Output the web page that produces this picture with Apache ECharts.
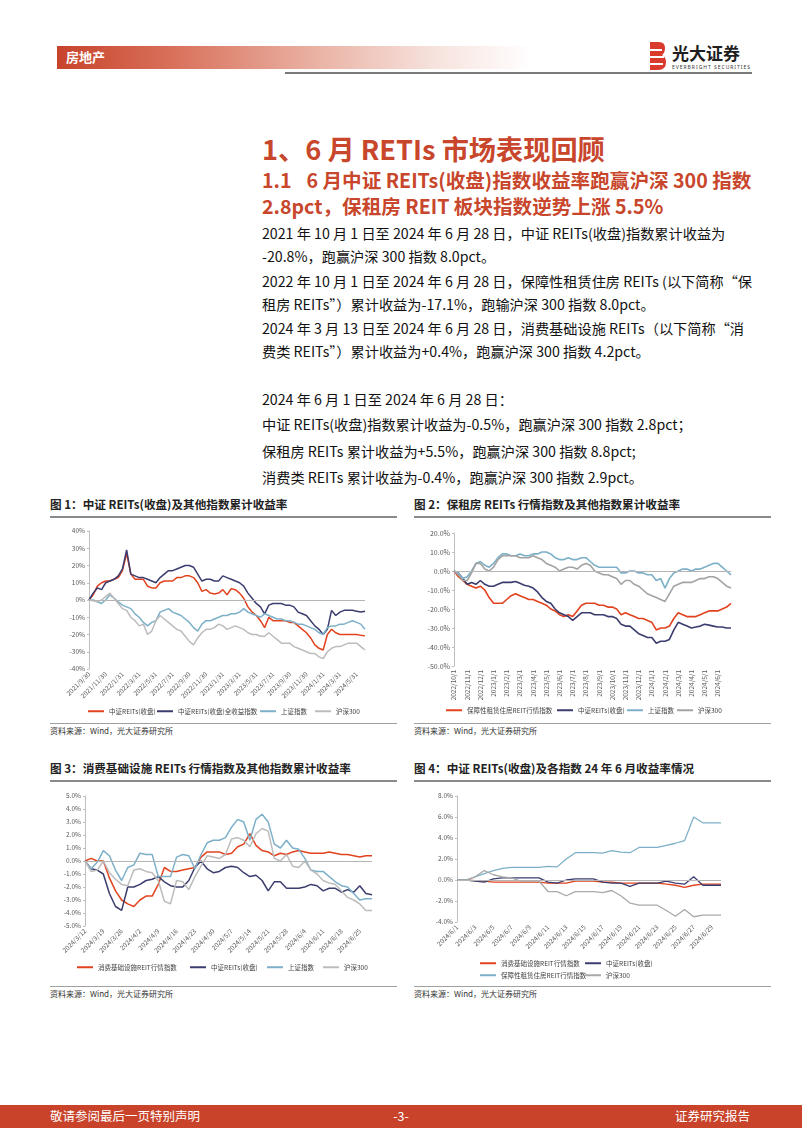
<!DOCTYPE html>
<html><head><meta charset="utf-8">
<script src="https://cdn.jsdelivr.net/npm/echarts@6.0.0/dist/echarts.min.js"></script>
<style>
html,body{margin:0;padding:0;background:#fff;}
#page{position:relative;width:802px;height:1133px;background:#fff;overflow:hidden;font-family:"Noto Sans CJK SC","Noto Sans",sans-serif;color:#111;}
.t{position:absolute;white-space:nowrap;}
.ch{position:absolute;}
.b{font-size:14.2px;line-height:20px;}
.ft{font-size:11.6px;line-height:16px;font-weight:bold;color:#222;}
</style></head>
<body>
<div id="page">
  <!-- header -->
  <div style="position:absolute;left:57px;top:46px;width:475px;height:23px;background:linear-gradient(to right,#c8432b 0%,#d9725c 25%,#eab3a5 55%,#f7e3de 80%,#ffffff 100%);"></div>
  <div class="t" style="left:66px;top:48px;font-size:13px;line-height:18px;font-weight:bold;color:#fff;">房地产</div>
  <div style="position:absolute;left:285px;top:72px;width:467px;height:2px;background:#7a7a7a;"></div>
  <svg style="position:absolute;left:646px;top:40px;" width="110" height="34" viewBox="0 0 110 34">
    <path d="M4 2 h9 q6 0 6 6 q0 5 -3 7 q4 2 4 7 q0 8 -8 8 h-8 z" fill="#d93a2b"/>
    <rect x="4" y="9" width="12" height="2" fill="#fff"/>
    <rect x="4" y="16" width="14" height="2" fill="#fff"/>
    <rect x="4" y="23" width="13" height="2" fill="#fff"/>
    <text x="26" y="20" font-size="17" font-weight="bold" fill="#1f1f1f" font-family="Noto Sans CJK SC">光大证券</text>
    <text x="26" y="29" font-size="5" fill="#333" font-family="Noto Sans" textLength="78">EVERBRIGHT SECURITIES</text>
  </svg>

  <!-- titles -->
  <div class="t" style="left:262px;top:132px;font-size:27.2px;line-height:32px;font-weight:bold;color:#c8462b;">1、6 月 RETIs 市场表现回顾</div>
  <div class="t" style="left:262px;top:167px;font-size:19.6px;line-height:26px;font-weight:bold;color:#c8462b;">1.1<span style="display:inline-block;width:15px;"></span>6 月中证 REITs(收盘)指数收益率跑赢沪深 300 指数</div>
  <div class="t" style="left:262px;top:193px;font-size:19.6px;line-height:26px;font-weight:bold;color:#c8462b;">2.8pct，保租房 REIT 板块指数逆势上涨 5.5%</div>

  <!-- body -->
  <div class="t b" style="left:262px;top:223px;">2021 年 10 月 1 日至 2024 年 6 月 28 日，中证 REITs(收盘)指数累计收益为</div>
  <div class="t b" style="left:262px;top:246px;">-20.8%，跑赢沪深 300 指数 8.0pct。</div>
  <div class="t b" style="left:262px;top:271px;">2022 年 10 月 1 日至 2024 年 6 月 28 日，保障性租赁住房 REITs (以下简称“保</div>
  <div class="t b" style="left:262px;top:294px;">租房 REITs”）累计收益为-17.1%，跑输沪深 300 指数 8.0pct。</div>
  <div class="t b" style="left:262px;top:318px;">2024 年 3 月 13 日至 2024 年 6 月 28 日，消费基础设施 REITs（以下简称“消</div>
  <div class="t b" style="left:262px;top:341px;">费类 REITs”）累计收益为+0.4%，跑赢沪深 300 指数 4.2pct。</div>
  <div class="t b" style="left:262px;top:389px;">2024 年 6 月 1 日至 2024 年 6 月 28 日：</div>
  <div class="t b" style="left:262px;top:414px;">中证 REITs(收盘)指数累计收益为-0.5%，跑赢沪深 300 指数 2.8pct；</div>
  <div class="t b" style="left:262px;top:441px;">保租房 REITs 累计收益为+5.5%，跑赢沪深 300 指数 8.8pct;</div>
  <div class="t b" style="left:262px;top:467px;">消费类 REITs 累计收益为-0.4%，跑赢沪深 300 指数 2.9pct。</div>

  <!-- figure titles -->
  <div class="t ft" style="left:50px;top:496px;">图 1：中证 REITs(收盘)及其他指数累计收益率</div>
  <div class="t ft" style="left:414px;top:496px;">图 2：保租房 REITs 行情指数及其他指数累计收益率</div>
  <div style="position:absolute;left:50px;top:516px;width:347px;height:1.5px;background:#8a8a8a;"></div>
  <div style="position:absolute;left:414px;top:516px;width:357px;height:1.5px;background:#8a8a8a;"></div>

  <div class="t ft" style="left:50px;top:760px;">图 3：消费基础设施 REITs 行情指数及其他指数累计收益率</div>
  <div class="t ft" style="left:414px;top:760px;">图 4：中证 REITs(收盘)及各指数 24 年 6 月收益率情况</div>
  <div style="position:absolute;left:50px;top:780px;width:347px;height:1.5px;background:#8a8a8a;"></div>
  <div style="position:absolute;left:414px;top:780px;width:357px;height:1.5px;background:#8a8a8a;"></div>

  <!-- charts -->
  <div id="c1" class="ch" style="left:50px;top:520px;width:350px;height:200px;"></div>
  <div id="c2" class="ch" style="left:414px;top:520px;width:360px;height:200px;"></div>
  <div id="c3" class="ch" style="left:50px;top:785px;width:350px;height:195px;"></div>
  <div id="c4" class="ch" style="left:414px;top:785px;width:360px;height:195px;"></div>

  <!-- sources -->
  <div style="position:absolute;left:50px;top:723px;width:347px;height:1px;background:#a0a0a0;"></div>
  <div style="position:absolute;left:414px;top:723px;width:357px;height:1px;background:#a0a0a0;"></div>
  <div class="t" style="left:50px;top:725px;font-size:8px;line-height:12px;color:#333;">资料来源：Wind，光大证券研究所</div>
  <div class="t" style="left:414px;top:725px;font-size:8px;line-height:12px;color:#333;">资料来源：Wind，光大证券研究所</div>
  <div style="position:absolute;left:50px;top:986px;width:347px;height:1px;background:#a0a0a0;"></div>
  <div style="position:absolute;left:414px;top:986px;width:357px;height:1px;background:#a0a0a0;"></div>
  <div class="t" style="left:50px;top:988px;font-size:8px;line-height:12px;color:#333;">资料来源：Wind，光大证券研究所</div>
  <div class="t" style="left:414px;top:988px;font-size:8px;line-height:12px;color:#333;">资料来源：Wind，光大证券研究所</div>

  <!-- footer -->
  <div style="position:absolute;left:0;top:1105px;width:802px;height:23px;background:#c8432a;"></div>
  <div class="t" style="left:50px;top:1107px;font-size:12.5px;line-height:18px;color:#fff;">敬请参阅最后一页特别声明</div>
  <div class="t" style="left:381px;width:40px;text-align:center;top:1107px;font-size:12.5px;line-height:18px;color:#fff;">-3-</div>
  <div class="t" style="right:52px;top:1107px;font-size:12.5px;line-height:18px;color:#fff;">证券研究报告</div>
</div>

<script>
// ---------------- data ----------------
// Chart 1: 中证REITs(收盘)及其他指数累计收益率 (%), semi-monthly readings
const c1Dates = ["2021/9/30","2021/10/15","2021/10/31","2021/11/15","2021/11/30","2021/12/15","2021/12/31",
"2022/1/15","2022/1/31","2022/2/15","2022/2/28","2022/3/15","2022/3/31","2022/4/15","2022/4/30","2022/5/15","2022/5/31","2022/6/15","2022/6/30","2022/7/15","2022/7/31","2022/8/15","2022/8/31","2022/9/15","2022/9/30","2022/10/15","2022/10/31","2022/11/15","2022/11/30","2022/12/15","2022/12/31",
"2023/1/15","2023/1/31","2023/2/15","2023/2/28","2023/3/15","2023/3/31","2023/4/15","2023/4/30","2023/5/15","2023/5/31","2023/6/15","2023/6/30","2023/7/15","2023/7/31","2023/8/15","2023/8/31","2023/9/15","2023/9/30","2023/10/15","2023/10/31","2023/11/15","2023/11/30","2023/12/15","2023/12/31",
"2024/1/15","2024/1/31","2024/2/15","2024/2/29","2024/3/15","2024/3/31","2024/4/15","2024/4/30","2024/5/15","2024/5/31","2024/6/15","2024/6/28"];
const c1Ticks = ["2021/9/30","2021/11/30","2022/1/31","2022/3/31","2022/5/31","2022/7/31","2022/9/30","2022/11/30","2023/1/31","2023/3/31","2023/5/31","2023/7/31","2023/9/30","2023/11/30","2024/1/31","2024/3/31","2024/5/31"];
const c1Reits = [0,3,8,10,11,11,12,13,17,27,15,12,12,12,8,7,7,10,11,11,11,13,13,14,14,13,10,5,6,4,3.5,4,6,3,6.5,6,4,1,-4,-7,-9,-12,-16,-10,-12,-12,-12,-12,-13,-13,-15,-17,-19,-22,-26,-28,-29,-20,-17,-19,-20,-20,-20,-20,-20,-20.5,-20.8];
const c1ReitsTotal = [0,4,7,6,10,11,12,14,18,29,15,14,13,13,12,11,10,13,15,17,17,18,19,20,20,19,15,11,12,12,11,11,14,13,12,11,10,8,4,1,-2,-4,-8,-3,-2,-2,-2,-3,-3,-4,-7,-8,-9,-12,-15,-17,-20,-17,-6,-9,-7,-6,-6,-6,-6.5,-7,-6.5];
const c1SH = [0,0,-1,-2,0,3,1,-1,-3,-4,-5,-8,-10,-13,-15,-13,-12,-7,-6,-5,-7,-8,-9,-11,-13,-16,-18,-14,-12,-12,-11,-10,-9,-9,-8,-8,-7,-5,-7,-8,-9,-10,-8,-9,-10,-11,-11,-12,-12,-13,-14,-14,-15,-16,-17,-19,-20,-16,-15,-15,-14,-14,-13,-12,-13,-14,-17];
const c1HS300 = [0,-0.5,-1,0,2,4,1,-2,-5,-6,-10,-12,-15,-14,-20,-18,-12,-9,-11,-13,-15,-17,-18,-21,-24,-26,-22,-19,-17,-17,-16,-14,-15,-17,-16,-15,-16,-17,-19,-20,-20,-21,-21,-19,-21,-23,-25,-25,-25,-27,-28,-29,-30,-31,-31,-33,-34,-30,-28,-27,-27,-26,-25,-25,-25,-27,-29];

// Chart 2: 保租房REITs行情指数及其他指数累计收益率 (%)
const c2Dates = ["2022/10/1","2022/10/11","2022/10/21","2022/11/1","2022/11/11","2022/11/21","2022/12/1","2022/12/11","2022/12/21",
"2023/1/1","2023/1/11","2023/1/21","2023/2/1","2023/2/11","2023/2/21","2023/3/1","2023/3/11","2023/3/21","2023/4/1","2023/4/11","2023/4/21","2023/5/1","2023/5/11","2023/5/21","2023/6/1","2023/6/11","2023/6/21","2023/7/1","2023/7/11","2023/7/21","2023/8/1","2023/8/11","2023/8/21","2023/9/1","2023/9/11","2023/9/21","2023/10/1","2023/10/11","2023/10/21","2023/11/1","2023/11/11","2023/11/21","2023/12/1","2023/12/11","2023/12/21",
"2024/1/1","2024/1/11","2024/1/21","2024/2/1","2024/2/11","2024/2/21","2024/3/1","2024/3/11","2024/3/21","2024/4/1","2024/4/11","2024/4/21","2024/5/1","2024/5/11","2024/5/21","2024/6/1","2024/6/11","2024/6/21","2024/6/28"];
const c2Ticks = ["2022/10/1","2022/11/1","2022/12/1","2023/1/1","2023/2/1","2023/3/1","2023/4/1","2023/5/1","2023/6/1","2023/7/1","2023/8/1","2023/9/1","2023/10/1","2023/11/1","2023/12/1","2024/1/1","2024/2/1","2024/3/1","2024/4/1","2024/5/1","2024/6/1"];
const c2Rent = [0,-3,-5,-7,-8,-9,-8,-10,-14,-17,-17,-17,-15,-13,-12,-13,-14,-15,-15,-16,-17,-18,-20,-21,-23,-24,-23,-24,-21,-18,-17,-17,-17,-18,-18,-19,-19,-20,-23,-22,-23,-24,-25,-25,-26,-27,-31,-30,-30,-29,-25,-22,-23,-24,-24,-24,-23,-22,-21,-21,-21,-20,-19,-17];
const c2Reits = [0,-1,-4,-7,-6,-7,-5,-7,-8,-8,-7,-6,-6,-6,-5.5,-6.5,-7.5,-8,-9,-11,-14,-16,-17,-20,-22,-23,-24,-26,-24,-22,-22,-22,-23,-23,-23,-24,-24,-25,-28,-29,-29,-31,-33,-34,-35,-35,-38,-37,-37,-36,-31,-27,-28,-29,-30,-29.5,-29,-28,-28.5,-29,-29.5,-29.5,-30,-30];
const c2SH = [0,-1,-4,-3,0,4,5,3,2,4,7,9,9,8,8,9,8,8,9,9,10,10,9,7,6,6,7,6,6,7,7,5,3,2,2,2,2,2,-1,-1,0,0,-1,-1,-2,-2,-5,-4,-9,-4,-1,0,1,1,0,1,1,2,3,4,4,2,0,-2];
const c2HS300 = [0,-2,-5,-5,-1,4,4,1,0,2,6,8,8,8,8,7,7,7,8,7,6,4,3,2,0,1,2,2,1,3,4,3,0,-1,-2,-2,-3,-4,-7,-5,-5,-7,-8,-10,-12,-13,-14,-15,-16,-12,-8,-7,-6,-6,-6,-5,-4,-4,-3,-3,-4,-6,-8,-9];

// Chart 3: 消费基础设施REITs行情指数及其他指数累计收益率 (%)
const c3Dates = ["2024/3/12","2024/3/14","2024/3/16","2024/3/19","2024/3/21","2024/3/23","2024/3/26","2024/3/28","2024/3/30",
"2024/4/2","2024/4/4","2024/4/6","2024/4/9","2024/4/11","2024/4/13","2024/4/16","2024/4/18","2024/4/20","2024/4/23","2024/4/25","2024/4/27","2024/4/30",
"2024/5/2","2024/5/4","2024/5/7","2024/5/9","2024/5/11","2024/5/14","2024/5/16","2024/5/18","2024/5/21","2024/5/23","2024/5/25","2024/5/28","2024/5/30",
"2024/6/1","2024/6/4","2024/6/6","2024/6/8","2024/6/11","2024/6/13","2024/6/15","2024/6/18","2024/6/20","2024/6/22","2024/6/25","2024/6/27","2024/6/28"];
const c3Ticks = ["2024/3/12","2024/3/19","2024/3/26","2024/4/2","2024/4/9","2024/4/16","2024/4/23","2024/4/30","2024/5/7","2024/5/14","2024/5/21","2024/5/28","2024/6/4","2024/6/11","2024/6/18","2024/6/25"];
const c3Consume = [0,0.2,0.0,0.0,-1.3,-2.3,-3.0,-3.3,-3.5,-3.0,-2.7,-2.7,-1.8,-0.5,-0.8,-0.8,-0.7,-0.6,-0.5,0.3,0.7,0.7,0.7,0.5,0.6,1.1,1.3,2.1,1.2,0.8,0.7,0.4,0.6,0.5,0.7,0.8,0.7,0.6,0.6,0.6,0.7,0.6,0.5,0.5,0.4,0.3,0.4,0.4];
const c3Reits = [0,-0.6,-0.7,-1.0,-2.5,-3.5,-3.8,-2.0,-2.0,-1.8,-1.5,-1.4,-1.2,-1.6,-1.9,-2.0,-2.0,-1.5,-0.5,0.0,-0.6,-0.9,-0.8,-0.5,-0.4,-0.5,-0.9,-1.2,-1.1,-1.5,-2.3,-1.6,-1.6,-2.1,-2.1,-2.1,-2.0,-1.8,-1.9,-2.3,-2.1,-2.1,-2.4,-2.2,-2.4,-1.9,-2.5,-2.6];
const c3SH = [0,-0.6,-0.1,0.8,0.4,-0.7,-1.5,-0.5,-0.3,0.6,0.5,0.5,-1.2,-1.2,-1.2,0.3,0.5,0.4,-0.6,0.5,1.4,1.6,1.6,1.8,2.6,3.2,3.0,1.6,3.2,3.6,3.0,1.3,1.0,1.6,1.0,0.9,0.2,-0.7,-0.8,-0.8,-1.2,-1.6,-1.9,-2.0,-2.5,-3.0,-2.9,-2.9];
const c3HS300 = [0,-0.8,-0.7,0.0,-0.9,-1.4,-1.8,-1.9,-0.7,-0.6,-0.8,-0.9,-1.5,-3.1,-3.3,-1.5,-1.6,-2.2,-1.2,-0.4,0.4,0.3,0.2,0.5,1.7,1.8,1.6,1.1,2.1,2.5,2.3,0.2,0.0,0.5,-0.4,-0.5,0.0,-0.7,-1.0,-1.5,-1.7,-1.8,-2.3,-2.8,-3.0,-3.3,-3.8,-3.8];

// Chart 4: 中证REITs(收盘)及各指数24年6月收益率 (%)
const c4Dates = ["2024/6/1","2024/6/2","2024/6/3","2024/6/4","2024/6/5","2024/6/6","2024/6/7","2024/6/8","2024/6/9","2024/6/10",
"2024/6/11","2024/6/12","2024/6/13","2024/6/14","2024/6/15","2024/6/16","2024/6/17","2024/6/18","2024/6/19","2024/6/20",
"2024/6/21","2024/6/22","2024/6/23","2024/6/24","2024/6/25","2024/6/26","2024/6/27","2024/6/28","2024/6/29","2024/6/30"];
const c4Ticks = ["2024/6/1","2024/6/3","2024/6/5","2024/6/7","2024/6/9","2024/6/11","2024/6/13","2024/6/15","2024/6/17","2024/6/19","2024/6/21","2024/6/23","2024/6/25","2024/6/27","2024/6/29"];
const c4Consume = [0,0,-0.05,-0.1,-0.2,-0.2,-0.2,-0.2,-0.2,-0.2,-0.3,-0.3,-0.3,-0.1,-0.1,-0.1,-0.2,-0.2,-0.3,-0.3,-0.3,-0.3,-0.3,-0.4,-0.5,-0.7,-0.5,-0.4,-0.4,-0.4];
const c4Reits = [0,0,-0.1,-0.2,0.1,0.2,0.2,0.2,0.2,0.2,-0.2,-0.3,0.0,0.1,0.1,0.1,-0.2,-0.3,-0.3,-0.6,-0.3,-0.3,-0.3,-0.1,-0.3,-0.4,0.3,-0.5,-0.5,-0.5];
const c4Rent = [0,0,0.3,0.6,0.9,1.1,1.2,1.2,1.2,1.2,1.3,1.25,2.0,2.6,2.6,2.6,2.55,2.8,2.65,2.6,3.1,3.1,3.1,3.3,3.5,3.75,6.0,5.45,5.45,5.45];
const c4HS300 = [0,0,0.3,0.9,0.5,0.3,0.2,-0.1,-0.1,-0.1,-1.1,-1.1,-1.5,-1.1,-1.1,-1.1,-1.2,-1.0,-1.5,-2.2,-2.4,-2.4,-2.4,-2.9,-3.45,-2.8,-3.5,-3.35,-3.35,-3.35];

// ---------------- styling ----------------
const FONT = '"Noto Sans CJK SC","Noto Sans",sans-serif';
const RED = '#e2431e', NAVY = '#3b3d6e', BLUE = '#7db0c8', GRAY = '#bcbcbc';

function line(name, data, color, w, mark) {
  const s = {name, type:'line', data, symbol:'none', showSymbol:false, smooth:false,
    lineStyle:{color, width:w}, itemStyle:{color}, emphasis:{disabled:true}, animation:false};
  if (mark) s.markLine = {silent:true, symbol:['none','none'], label:{show:false}, animation:false,
    lineStyle:{color:'#b5b5b5', width:1, type:'solid'}, emphasis:{disabled:true}, data:[{yAxis:0}]};
  return s;
}
function leg(name, left, top) {
  return {data:[name], left, top, icon:'rect', itemWidth:16, itemHeight:2, padding:0, itemGap:0,
    selectedMode:false, textStyle:{fontSize:6.5, color:'#404040', fontFamily:FONT}};
}
function build(el, cfg) {
  const chart = echarts.init(document.getElementById(el), null, {renderer:'canvas'});
  chart.setOption({
    animation:false,
    textStyle:{fontFamily:FONT},
    grid:cfg.grid,
    legend:cfg.legends,
    xAxis:{type:'category', data:cfg.dates, boundaryGap:false,
      axisLine:{show:false, onZero:false}, axisTick:{show:false},
      axisLabel:{interval:0, rotate:cfg.rotate, fontSize:6.5, color:'#595959',
        formatter:v => (cfg.ticks.indexOf(v) >= 0 ? v : ''),
        margin:cfg.xMargin||4, fontFamily:FONT, hideOverlap:false}},
    yAxis:{type:'value', min:cfg.min, max:cfg.max, interval:cfg.step,
      axisLine:{show:true, lineStyle:{color:'#bfbfbf', width:1}},
      axisTick:{show:true, length:2, lineStyle:{color:'#bfbfbf'}},
      splitLine:{show:false},
      axisLabel:{fontSize:cfg.yFont||6.5, color:'#595959', margin:4, fontFamily:FONT, formatter:cfg.fmt}},
    series:cfg.series
  });
}

build('c1', {
  grid:{left:39, top:11, width:276, height:138},
  dates:c1Dates, ticks:c1Ticks, rotate:45, min:-40, max:40, step:10,
  fmt:v => v + '%',
  legends:[leg('中证REITs(收盘)',38,188), leg('中证REITs(收盘)全收益指数',107,188), leg('上证指数',210,188), leg('沪深300',265,188)],
  series:[line('中证REITs(收盘)', c1Reits, RED, 1.5, true), line('中证REITs(收盘)全收益指数', c1ReitsTotal, NAVY, 1.5),
          line('上证指数', c1SH, BLUE, 1.5), line('沪深300', c1HS300, GRAY, 1.5)]
});
build('c2', {
  grid:{left:40, top:13, width:277, height:133},
  dates:c2Dates, ticks:c2Ticks, rotate:90, min:-50, max:20, step:10, yFont:7,
  fmt:v => v.toFixed(1) + '%',
  legends:[leg('保障性租赁住房REIT行情指数',32,187), leg('中证REITs(收盘)',143,187), leg('上证指数',213,187), leg('沪深300',263,187)],
  series:[line('保障性租赁住房REIT行情指数', c2Rent, RED, 1.6, true), line('中证REITs(收盘)', c2Reits, NAVY, 1.6),
          line('上证指数', c2SH, BLUE, 1.6), line('沪深300', c2HS300, '#a3a3a3', 1.6)]
});
build('c3', {
  grid:{left:35, top:11, width:287, height:130},
  dates:c3Dates, ticks:c3Ticks, rotate:45, min:-5, max:5, step:1,
  fmt:v => v.toFixed(1) + '%',
  legends:[leg('消费基础设施REIT行情指数',27,179), leg('中证REITs(收盘)',140,179), leg('上证指数',217,179), leg('沪深300',273,179)],
  series:[line('消费基础设施REIT行情指数', c3Consume, RED, 1.5, true), line('中证REITs(收盘)', c3Reits, NAVY, 1.5),
          line('上证指数', c3SH, BLUE, 1.5), line('沪深300', c3HS300, GRAY, 1.5)]
});
build('c4', {
  grid:{left:43, top:11, width:264, height:126},
  dates:c4Dates, ticks:c4Ticks, rotate:45, min:-4, max:8, step:2,
  fmt:v => v.toFixed(1) + '%',
  legends:[leg('消费基础设施REIT行情指数',66,175), leg('中证REITs(收盘)',171,175), leg('保障性租赁住房REIT行情指数',66,187), leg('沪深300',171,187)],
  series:[line('消费基础设施REIT行情指数', c4Consume, RED, 1.3, true), line('中证REITs(收盘)', c4Reits, NAVY, 1.3),
          line('保障性租赁住房REIT行情指数', c4Rent, BLUE, 1.3), line('沪深300', c4HS300, '#a9a9a9', 1.3)]
});
</script>
</body></html>
